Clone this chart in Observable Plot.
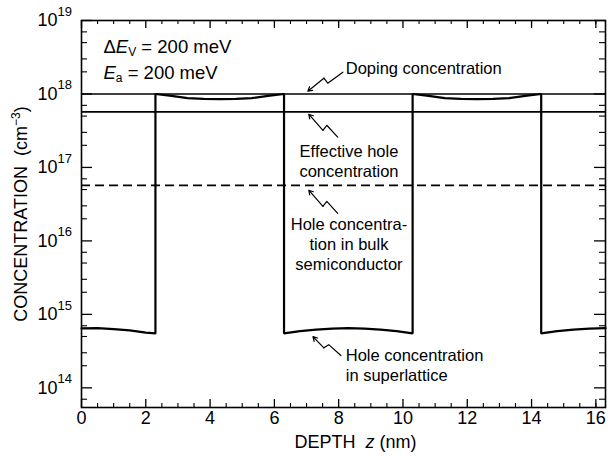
<!DOCTYPE html>
<html><head><meta charset="utf-8">
<script src="https://cdn.jsdelivr.net/npm/d3@7"></script>
<script src="https://cdn.jsdelivr.net/npm/@observablehq/plot@0.6"></script>
<style>
body{margin:0;background:#fff}
svg{display:block}
svg text{white-space:pre}
</style>
</head><body><div id="chart"></div>
<script>
// ---- data ----
const slDepth = [0,0.5,1,1.5,2,2.3, 2.3,2.8,3.3,3.8,4.3,4.8,5.3,5.8,6.3, 6.3,6.8,7.3,7.8,8.3,8.8,9.3,9.8,10.3, 10.3,10.8,11.3,11.8,12.3,12.8,13.3,13.8,14.3, 14.3,14.8,15.3,15.8,16.3];
const slConc = [6.45e14,6.48e14,6.3e14,6.05e14,5.65e14,5.5e14, 1e18,9.4e17,8.8e17,8.55e17,8.5e17,8.55e17,8.8e17,9.4e17,1e18, 5.5e14,5.9e14,6.2e14,6.4e14,6.5e14,6.4e14,6.2e14,5.9e14,5.5e14, 1e18,9.4e17,8.8e17,8.55e17,8.5e17,8.55e17,8.8e17,9.4e17,1e18, 5.5e14,5.9e14,6.2e14,6.4e14,6.5e14];
const dopingConc = [1e18];
const effectiveConc = [5.7e17];
const bulkConc = [5.7e16];

const xTickLabels = [0,2,4,6,8,10,12,14,16];
const xMinorTicks = [0.5,1,1.5,2.5,3,3.5,4.5,5,5.5,6.5,7,7.5,8.5,9,9.5,10.5,11,11.5,12.5,13,13.5,14.5,15,15.5,16];
const yTickLabels = [1e14,1e15,1e16,1e17,1e18,1e19];
const yExponents = ["14","15","16","17","18","19"];
const yMinorTicks = [7e13,2e14,3e14,5e14,7e14,2e15,3e15,5e15,7e15,2e16,3e16,5e16,7e16,2e17,3e17,5e17,7e17,2e18,3e18,5e18,7e18];

// annotations
const noteText = ["Doping concentration","Effective hole\nconcentration","Hole concentra-\ntion in bulk\nsemiconductor","Hole concentration\nin superlattice"];
const noteX = [8.22, 8.32, 8.32, 8.22];
const noteY = [2.3e18, 1.25e17, 9.2e15, 2.1e14];
const noteAnchor = ["start","middle","middle","start"];
const leaderTipX = [7.04, 7.07, 7.07, 7.20];
const leaderTipY = [1.09e18, 5.3e17, 4.9e16, 4.97e14];
const leaderAX = [7.54, 7.51, 7.51, 7.54];
const leaderAY = [1.64e18, 3.2e17, 2.95e16, 3.5e14];
const leaderBX = [7.66, 7.63, 7.63, 7.69];
const leaderBY = [1.40e18, 3.75e17, 3.45e16, 3.87e14];
const leaderTailX = [8.13, 7.97, 7.97, 8.07];
const leaderTailY = [1.98e18, 2.58e17, 2.37e16, 2.75e14];

// ---- layout ----
const W = 608, H = 466;
const mL = 81, mR = 3, mT = 20, mB = 59;
const fw = W - mL - mR, fh = H - mT - mB;
const font = "'Liberation Sans', Arial, Helvetica, sans-serif";

const slData = slDepth.map((d, i) => ({d, c: slConc[i]}));
const notes = noteText.map((t, i) => ({t, x: noteX[i], y: noteY[i], a: noteAnchor[i]}));
const leaderPts = [];
leaderTipX.forEach((_, i) => {
  leaderPts.push({i, x: leaderTailX[i], y: leaderTailY[i]});
  leaderPts.push({i, x: leaderBX[i], y: leaderBY[i]});
  leaderPts.push({i, x: leaderAX[i], y: leaderAY[i]});
});
const arrows = leaderTipX.map((_, i) => ({x1: leaderAX[i], y1: leaderAY[i], x2: leaderTipX[i], y2: leaderTipY[i]}));

const plot = Plot.plot({
  width: W, height: H,
  marginLeft: mL, marginRight: mR, marginTop: mT, marginBottom: mB,
  style: {fontFamily: font, background: "#fff", color: "#000"},
  x: {domain: [0, 16.3], axis: null},
  y: {type: "log", domain: [5.4e13, 1e19], axis: null},
  marks: [
    // ticks (inward) on all four sides
    Plot.tickX(xTickLabels, {x: d => d, insetTop: fh - 8, strokeWidth: 1.3}),
    Plot.tickX(xMinorTicks, {x: d => d, insetTop: fh - 4, strokeWidth: 1.1}),
    Plot.tickX(xTickLabels, {x: d => d, insetBottom: fh - 8, strokeWidth: 1.3}),
    Plot.tickX(xMinorTicks, {x: d => d, insetBottom: fh - 4, strokeWidth: 1.1}),
    Plot.tickY(yTickLabels, {y: d => d, insetRight: fw - 11, strokeWidth: 1.3}),
    Plot.tickY(yMinorTicks, {y: d => d, insetRight: fw - 6, strokeWidth: 1.1}),
    Plot.tickY(yTickLabels, {y: d => d, insetLeft: fw - 11, strokeWidth: 1.3}),
    Plot.tickY(yMinorTicks, {y: d => d, insetLeft: fw - 6, strokeWidth: 1.1}),
    // tick labels
    Plot.text(xTickLabels, {x: d => d, frameAnchor: "bottom", dy: 16, fontSize: 18, text: d => String(d)}),
    Plot.text(yTickLabels, {y: d => d, frameAnchor: "left", dx: -24, textAnchor: "end", fontSize: 18, text: () => "10"}),
    Plot.text(yTickLabels, {y: d => d, frameAnchor: "left", dx: -24, dy: -9, textAnchor: "start", fontSize: 13, text: (d, i) => yExponents[i]}),
    // axis titles
    Plot.text(["CONCENTRATION\u00a0\u00a0(cm"], {frameAnchor: "left", dx: -60, rotate: -90, textAnchor: "middle", fontSize: 18}),
    Plot.text(["DEPTH\u00a0\u00a0z (nm)"], {frameAnchor: "bottom", dx: 12, dy: 40, textAnchor: "middle", fontSize: 18}),
    // data lines
    Plot.ruleY(dopingConc, {strokeWidth: 1.6}),
    Plot.ruleY(effectiveConc, {strokeWidth: 1.6}),
    Plot.ruleY(bulkConc, {strokeWidth: 1.6, strokeDasharray: "9,5"}),
    Plot.line(slData, {x: "d", y: "c", strokeWidth: 2.2, strokeLinejoin: "miter"}),
    // annotations
    Plot.line(leaderPts, {x: "x", y: "y", z: "i", strokeWidth: 1.2}),
    Plot.arrow(arrows, {x1: "x1", y1: "y1", x2: "x2", y2: "y2", strokeWidth: 1.2, headLength: 6}),
    Plot.text(notes, {x: "x", y: "y", text: "t", textAnchor: "start", fontSize: 16.5, lineHeight: 1.22, filter: d => d.a === "start"}),
    Plot.text(notes, {x: "x", y: "y", text: "t", textAnchor: "middle", fontSize: 16.5, lineHeight: 1.22, filter: d => d.a === "middle"}),
    Plot.text(["dEv = 200 meV"], {frameAnchor: "top-left", dx: 22, dy: 19, textAnchor: "start", fontSize: 18.5}),
    Plot.text(["Ea = 200 meV"], {frameAnchor: "top-left", dx: 22, dy: 45, textAnchor: "start", fontSize: 18.5}),
    Plot.frame({strokeWidth: 1.6})
  ]
});
document.getElementById("chart").appendChild(plot);

// rich text (italic / sub- and superscripts), located by content
const svg = d3.select(plot);
function rebuild(content, parts) {
  const t = svg.selectAll("text").filter(function() { return this.textContent === content; });
  if (t.empty()) return;
  t.text(null);
  parts.forEach(p => {
    const s = t.append("tspan").text(p.t);
    if (p.italic) s.attr("font-style", "italic");
    if (p.size) s.attr("font-size", p.size);
    if (p.dy) s.attr("dy", p.dy);
  });
}
rebuild("CONCENTRATION\u00a0\u00a0(cm", [{t: "CONCENTRATION\u00a0\u00a0(cm"}, {t: "\u22123", size: 12, dy: -7}, {t: ")", dy: 7}]);
rebuild("DEPTH\u00a0\u00a0z (nm)", [{t: "DEPTH\u00a0\u00a0"}, {t: "z", italic: true}, {t: " (nm)"}]);
rebuild("dEv = 200 meV", [{t: "\u0394"}, {t: "E", italic: true}, {t: "V", size: 12, dy: 3}, {t: " = 200 meV", dy: -3}]);
rebuild("Ea = 200 meV", [{t: "E", italic: true}, {t: "a", size: 12, dy: 3}, {t: " = 200 meV", dy: -3}]);
</script>
</body></html>
